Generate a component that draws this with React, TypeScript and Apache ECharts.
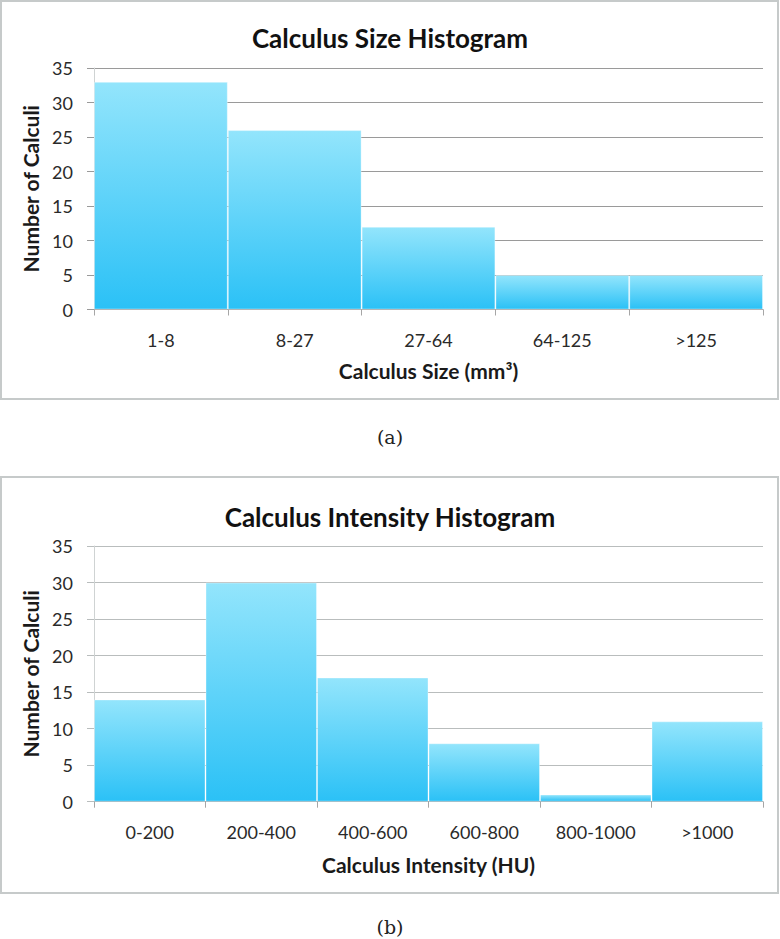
import React, { useEffect, useRef } from "react";
import * as echarts from "echarts";

const sizeCategories = ["1-8", "8-27", "27-64", "64-125", ">125"];
const sizeCounts = [33, 26, 12, 5, 5];
const intensityCategories = ["0-200", "200-400", "400-600", "600-800", "800-1000", ">1000"];
const intensityCounts = [14, 30, 17, 8, 1, 11];
const yTickMin = 0;
const yTickMax = 35;
const yTickStep = 5;

const FONT = "Lato";

export default function App() {
  const ref = useRef<HTMLDivElement>(null);
  useEffect(() => {
    if (!ref.current) return;
    const chart = echarts.init(ref.current, undefined, { renderer: "svg" });
    const barGradient = new echarts.graphic.LinearGradient(0, 0, 0, 1, [
      { offset: 0, color: "#93e5fc" },
      { offset: 1, color: "#2bc1f6" },
    ]);
    const makeX = (gridIndex: number, data: string[], name: string, nameGap: number, margin: number) => ({
      type: "category" as const,
      gridIndex,
      data,
      name,
      nameLocation: "middle" as const,
      nameGap,
      nameTextStyle: { fontFamily: FONT, fontWeight: "bold", fontSize: 21, color: "#1a1a1a" },
      boundaryGap: true,
      axisLine: { show: true, lineStyle: { color: "#a6a6a6", width: 1 } },
      axisTick: { show: true, length: 6, interval: 0, lineStyle: { color: "#a6a6a6" } },
      axisLabel: { fontFamily: FONT, fontSize: 18, color: "#2a2a2a", margin, interval: 0 },
      splitLine: { show: false },
    });
    const makeY = (gridIndex: number, nameGap: number, gridColor: string) => ({
      type: "value" as const,
      gridIndex,
      min: yTickMin,
      max: yTickMax,
      interval: yTickStep,
      name: "Number of Calculi",
      nameLocation: "middle" as const,
      nameRotate: 90,
      nameGap,
      nameTextStyle: { fontFamily: FONT, fontWeight: "bold", fontSize: 21, color: "#1a1a1a" },
      axisLine: { show: true, lineStyle: { color: "#cfd3d3", width: 1 } },
      axisTick: { show: true, length: 7, lineStyle: { color: gridColor } },
      axisLabel: { fontFamily: FONT, fontSize: 18, color: "#2a2a2a", margin: 21 },
      splitLine: { show: true, lineStyle: { color: gridColor, width: 1 } },
    });
    const barStyle = {
      color: barGradient,
      borderColor: "rgba(255,255,255,0.35)",
      borderWidth: 1,
    };
    chart.setOption({
      animation: false,
      backgroundColor: "#ffffff",
      title: [
        {
          text: "Calculus Size Histogram",
          left: "center",
          top: 19,
          textStyle: { fontFamily: FONT, fontWeight: "bold", fontSize: 26, color: "#111", lineHeight: 28 },
        },
        {
          text: "Calculus Intensity Histogram",
          left: "center",
          top: 498,
          textStyle: { fontFamily: FONT, fontWeight: "bold", fontSize: 26, color: "#111", lineHeight: 28 },
        },
      ],
      grid: [
        { left: 94, right: 17, top: 68, height: 241.5, containLabel: false },
        { left: 94, right: 17, top: 546, height: 255.7, containLabel: false },
      ],
      xAxis: [
        makeX(0, sizeCategories, "Calculus Size (mm³)", 50, 21.5),
        makeX(1, intensityCategories, "Calculus Intensity (HU)", 52, 21),
      ],
      yAxis: [makeY(0, 48.5, "#9a9a9a"), makeY(1, 48.5, "#b9bdbd")],
      series: [
        {
          type: "bar",
          xAxisIndex: 0,
          yAxisIndex: 0,
          data: sizeCounts,
          barCategoryGap: "0%",
          itemStyle: barStyle,
        },
        {
          type: "bar",
          xAxisIndex: 1,
          yAxisIndex: 1,
          data: intensityCounts,
          barCategoryGap: "0%",
          itemStyle: barStyle,
        },
      ],
      graphic: [
        {
          type: "rect",
          shape: { x: 1, y: 1, width: 777, height: 398 },
          style: { fill: "none", stroke: "#c6caca", lineWidth: 2 },
          silent: true,
        },
        {
          type: "rect",
          shape: { x: 1, y: 477, width: 777, height: 416 },
          style: { fill: "none", stroke: "#c6caca", lineWidth: 2 },
          silent: true,
        },
        {
          type: "text",
          x: 390,
          y: 437,
          style: {
            text: "(a)",
            fontFamily: "DejaVu Serif",
            fontSize: 19,
            fill: "#222",
            align: "center",
            verticalAlign: "middle",
          },
        },
        {
          type: "text",
          x: 390,
          y: 927,
          style: {
            text: "(b)",
            fontFamily: "DejaVu Serif",
            fontSize: 19,
            fill: "#222",
            align: "center",
            verticalAlign: "middle",
          },
        },
      ],
    });
    return () => chart.dispose();
  }, []);
  return (
    <div
      ref={ref}
      style={{ position: "absolute", left: 0, top: 0, width: 780, height: 939, background: "#fff" }}
    />
  );
}
